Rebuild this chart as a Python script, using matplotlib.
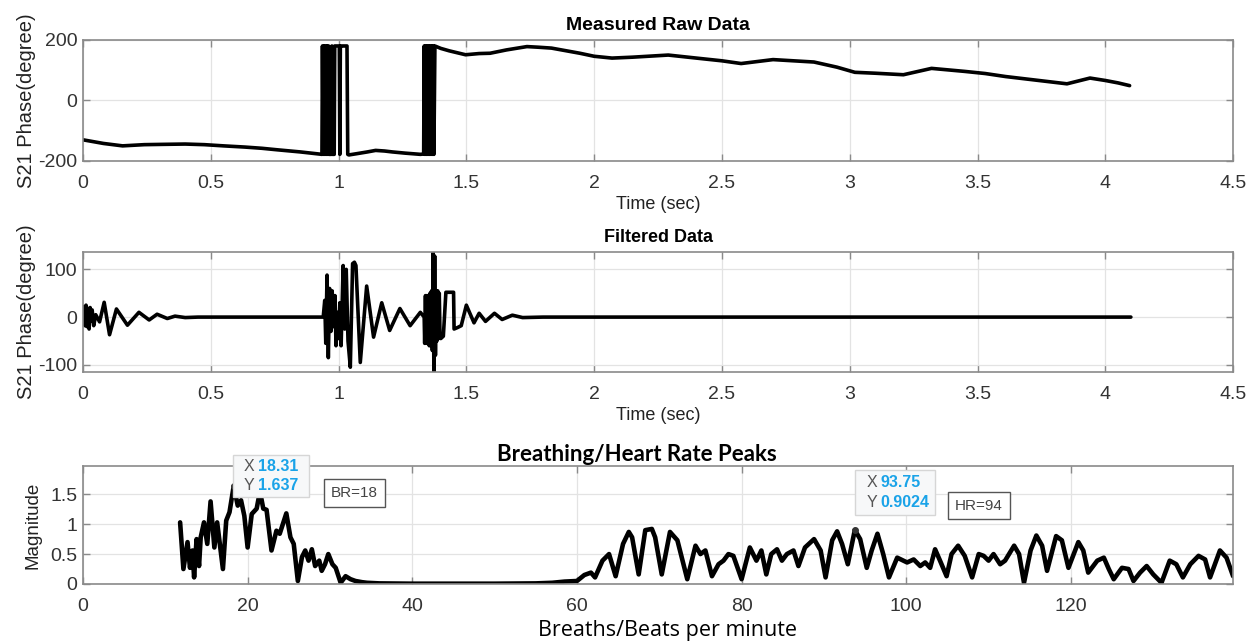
import numpy as np
import matplotlib.pyplot as plt
from matplotlib.patches import Rectangle

plt.rcParams['font.family'] = ['Liberation Sans', 'DejaVu Sans']
plt.rcParams['axes.unicode_minus'] = False

# ---- measured raw phase (deg) vs time (s) ----
raw_t = [0.0, 0.08, 0.155, 0.24, 0.315, 0.4, 0.475, 0.55, 0.634, 0.7, 0.76, 0.85, 0.935,
         0.937, 0.940, 0.943, 0.946, 0.949, 0.952, 0.955, 0.958, 0.961, 0.963,
         0.972, 0.974, 0.976, 0.983, 0.985, 1.003, 1.005, 1.007, 1.01, 1.033, 1.036,
         1.04, 1.07, 1.113, 1.145, 1.18, 1.21, 1.26, 1.32, 1.333,
         1.335, 1.338, 1.341, 1.344, 1.347, 1.350, 1.353, 1.356, 1.359, 1.362,
         1.365, 1.368, 1.371, 1.373,
         1.377, 1.4, 1.433, 1.497, 1.55, 1.593, 1.657, 1.737, 1.78, 1.833, 1.944,
         2.0, 2.07, 2.15, 2.29, 2.4, 2.5, 2.575, 2.7, 2.86, 2.95, 3.02, 3.1, 3.21,
         3.32, 3.45, 3.53, 3.61, 3.75, 3.85, 3.94, 4.0, 4.05, 4.095]
raw_v = [-130, -142, -150, -146, -145, -144, -146, -150, -154, -158, -163, -170, -178,
         180, -178, 180, -178, 180, -178, 180, -178, 180, -178,
         -178, 180, -178, -178, 180, 180, -178, 180, 180, 180, -178,
         -180, -176, -170, -165, -167, -170, -174, -178, -177,
         180, -178, 180, -178, 180, -178, 180, -178, 180, -178,
         180, -178, 180, -178,
         180, 172, 164, 151, 155, 156, 167, 178, 176, 173, 156,
         146, 140, 143, 150, 140, 131, 122, 135, 127, 110, 93, 90, 85,
         106, 96, 89, 79, 65, 55, 74, 66, 58, 49]

# ---- filtered phase (deg) vs time (s) ----
filt_t = [0.0, 0.004, 0.008, 0.012, 0.016, 0.02, 0.024, 0.028, 0.032, 0.036, 0.042, 0.05,
          0.065, 0.083, 0.104, 0.131, 0.174, 0.219, 0.259, 0.29, 0.33, 0.36, 0.4, 0.45, 0.94,
          0.946, 0.95, 0.955, 0.96, 0.965, 0.97, 0.975, 0.98, 0.986, 0.99, 0.995, 1.0,
          1.005, 1.01, 1.018, 1.024, 1.03, 1.037, 1.046, 1.055, 1.062, 1.068, 1.085,
          1.11, 1.137, 1.169, 1.2, 1.24, 1.28, 1.32, 1.335,
          1.337, 1.34, 1.343, 1.346, 1.349, 1.352, 1.355, 1.358, 1.361, 1.364, 1.367,
          1.37, 1.373, 1.376, 1.379, 1.382, 1.385, 1.388, 1.391, 1.394, 1.397, 1.4,
          1.41, 1.42, 1.45, 1.452, 1.465, 1.48, 1.5, 1.53, 1.55, 1.575, 1.61, 1.64,
          1.68, 1.72, 1.8, 4.1]
filt_v = [0, 22, -18, 25, -20, 18, -25, 20, -8, 15, -18, 5,
          -10, 31, -37, 17, -17, 10, -6, 6, -3, 2, -1, 0, 0,
          35, -55, 88, -85, 60, -30, 55, -20, 45, -60, 10, -45,
          30, -60, 108, -25, 100, -50, -105, 112, 115, 108, -95,
          65, -42, 30, -28, 18, -18, 10, 0,
          -55, 45, -55, 45, -55, 45, -60, 50, -60, 55, -70,
          135, -115, 128, -80, 55, -50, 55, -45, 50, -40, -45,
          -40, 52, 52, -25, -22, -18, 25, -12, 8, -9, 8, -5,
          4, -1, 0, 0]

# ---- spectrum magnitude vs breaths/beats per minute ----
bpm = [11.8, 12.2, 12.7, 13.0, 13.3, 13.5, 13.8, 14.1, 14.3, 14.7, 15.1, 15.5, 15.96,
       16.3, 17.0, 17.4, 17.8, 18.31, 18.8, 19.2, 19.6, 20.0, 20.5, 21.1, 21.5, 21.9,
       22.3, 22.9, 23.5, 23.9, 24.7, 25.2, 25.6, 26.1, 26.6, 27.0, 27.4, 27.8, 28.2,
       28.7, 29.0, 29.4, 29.8, 30.3, 30.7, 31.3, 31.9, 32.5, 33.1, 33.9, 34.5, 36,
       40, 50, 55, 57, 58.5, 60.0, 60.9, 61.7, 62.2, 63.1, 63.9, 64.7, 65.6, 66.3,
       66.7, 67.5, 68.3, 69.1, 69.5, 70.3, 71.3, 72.2, 73.4, 74.4, 75.0, 75.6, 76.4,
       77.2, 77.8, 78.4, 79.0, 80.0, 81.0, 81.8, 82.4, 83.0, 83.6, 84.3, 84.9, 85.5,
       86.3, 86.9, 87.7, 88.8, 89.6, 90.2, 91.0, 91.6, 92.2, 92.9, 93.75, 94.4, 95.2,
       95.8, 96.5, 97.2, 97.9, 98.9, 100.1, 100.9, 101.7, 102.3, 102.9, 103.5, 104.1,
       104.9, 105.5, 106.3, 107.1, 108.0, 108.8, 109.4, 110.0, 110.6, 111.4, 112.0,
       113.1, 113.7, 114.3, 115.1, 115.8, 116.5, 117.1, 118.2, 118.9, 119.7, 120.9,
       121.5, 122.1, 123.2, 124.0, 124.6, 125.2, 126.2, 127.0, 127.6, 128.4, 129.2,
       130.0, 131.0, 132.0, 132.8, 133.6, 134.5, 135.5, 136.3, 136.9, 138.1, 138.9,
       139.7]
mag = [1.03, 0.25, 0.70, 0.27, 0.56, 0.11, 0.75, 0.30, 0.78, 1.03, 0.67, 1.38, 0.61,
       1.03, 0.25, 1.06, 1.20, 1.637, 1.31, 1.40, 1.14, 0.61, 1.17, 1.26, 1.55, 1.26,
       1.24, 0.56, 0.89, 0.84, 1.18, 0.78, 0.67, 0.05, 0.45, 0.56, 0.39, 0.58, 0.30,
       0.39, 0.22, 0.33, 0.50, 0.33, 0.27, 0.02, 0.13, 0.08, 0.05, 0.03, 0.02, 0.01,
       0.005, 0.005, 0.01, 0.02, 0.04, 0.05, 0.15, 0.19, 0.11, 0.39, 0.50, 0.13, 0.67,
       0.87, 0.78, 0.16, 0.90, 0.92, 0.78, 0.16, 0.87, 0.73, 0.08, 0.64, 0.50, 0.56,
       0.13, 0.33, 0.39, 0.50, 0.47, 0.08, 0.61, 0.39, 0.56, 0.16, 0.50, 0.58, 0.39,
       0.50, 0.56, 0.30, 0.61, 0.75, 0.56, 0.11, 0.73, 0.88, 0.67, 0.33, 0.9024, 0.75,
       0.27, 0.56, 0.84, 0.50, 0.11, 0.44, 0.36, 0.41, 0.30, 0.36, 0.27, 0.58, 0.39,
       0.13, 0.50, 0.64, 0.47, 0.11, 0.50, 0.47, 0.39, 0.50, 0.33, 0.39, 0.64, 0.50,
       0.02, 0.56, 0.81, 0.64, 0.22, 0.80, 0.73, 0.27, 0.70, 0.56, 0.19, 0.39, 0.44,
       0.25, 0.08, 0.27, 0.25, 0.05, 0.19, 0.30, 0.16, 0.02, 0.39, 0.33, 0.11, 0.33,
       0.47, 0.41, 0.11, 0.56, 0.44, 0.13]

tips = [(18.31, 1.637), (93.75, 0.9024)]

TICK_C = '#333333'
FRAME_C = '#8a8a8a'
GRID_C = '#e3e3e3'
time_labels = ['0', '0.5', '1', '1.5', '2', '2.5', '3', '3.5', '4', '4.5']


def style_axes(ax):
    ax.grid(True, color=GRID_C, linewidth=0.9)
    ax.set_axisbelow(True)
    for s in ax.spines.values():
        s.set_color(FRAME_C)
        s.set_linewidth(1.2)
    ax.tick_params(direction='in', length=5, width=1, color=FRAME_C,
                   top=True, right=True, labelsize=14, labelcolor=TICK_C)
    ax.tick_params(axis='x', pad=10)
    ax.tick_params(axis='y', pad=4)


fig = plt.figure(figsize=(12.57, 6.44), dpi=100)
ax1 = fig.add_axes([0.066, 0.750, 0.915, 0.188])
ax2 = fig.add_axes([0.066, 0.4224, 0.915, 0.186])
ax3 = fig.add_axes([0.066, 0.0932, 0.915, 0.183])

line_kw = dict(color='black', solid_joinstyle='round', solid_capstyle='round')

ax1.plot(raw_t, raw_v, linewidth=2.6, **line_kw)
ax1.set_xlim(0, 4.5)
ax1.set_ylim(-200, 200)
ax1.set_yticks([-200, 0, 200])
ax1.set_xticks(np.arange(0, 4.51, 0.5))
ax1.set_xticklabels(time_labels)
ax1.set_title('Measured Raw Data', fontsize=14, fontweight='bold', pad=7)
ax1.set_xlabel('Time (sec)', fontsize=13, color='#222222', labelpad=3)
ax1.set_ylabel('S21 Phase(degree)', fontsize=14.5, color='#222222', labelpad=2)
style_axes(ax1)

ax2.plot(filt_t, filt_v, linewidth=2.6, **line_kw)
ax2.set_xlim(0, 4.5)
ax2.set_ylim(-115, 136)
ax2.set_yticks([-100, 0, 100])
ax2.set_xticks(np.arange(0, 4.51, 0.5))
ax2.set_xticklabels(time_labels)
ax2.set_title('Filtered Data', fontsize=13, fontweight='bold', pad=7)
ax2.set_xlabel('Time (sec)', fontsize=13, color='#222222', labelpad=3)
ax2.set_ylabel('S21 Phase(degree)', fontsize=14.5, color='#222222', labelpad=2)
style_axes(ax2)

ax3.plot(bpm, mag, linewidth=3.3, **line_kw)
ax3.set_xlim(0, 139.7)
ax3.set_ylim(0, 1.97)
ax3.set_yticks([0, 0.5, 1, 1.5])
ax3.set_yticklabels(['0', '0.5', '1', '1.5'])
ax3.set_xticks([0, 20, 40, 60, 80, 100, 120])
ax3.set_title('Breathing/Heart Rate Peaks', fontsize=16, fontweight='bold',
              family=['Lato', 'DejaVu Sans'], pad=4, x=0.482)
ax3.set_xlabel('Breaths/Beats per minute', fontsize=15.5,
               family=['Open Sans', 'DejaVu Sans'], labelpad=4, x=0.508)
ax3.set_ylabel('Magnitude', fontsize=13.5, color='#222222', labelpad=6)
style_axes(ax3)

# data tips
for (tx, ty) in tips:
    ax3.plot(tx, ty, 'o', color='#333333', markersize=4, zorder=6)

tip_boxes = [((18.2, 1.45), 9.2, 0.71, (19.5, 21.3), 18.31, 1.637),
             ((93.8, 1.15), 9.7, 0.76, (95.2, 96.9), 93.75, 0.9024)]
for (x0, y0), w, h, (lx, vx), xv, yv in tip_boxes:
    ax3.add_patch(Rectangle((x0, y0), w, h, facecolor='#f7f8f9', edgecolor='#d6d6d6',
                            linewidth=1, clip_on=False, zorder=7))
    y_top = y0 + h * 0.72
    y_bot = y0 + h * 0.27
    ax3.text(lx, y_top, 'X', fontsize=11.5, color='#555555', va='center', zorder=8)
    ax3.text(vx, y_top, f'{xv:g}', fontsize=11.5, color='#1aa3e8', fontweight='bold',
             va='center', zorder=8)
    ax3.text(lx, y_bot, 'Y', fontsize=11.5, color='#555555', va='center', zorder=8)
    ax3.text(vx, y_bot, f'{yv:g}', fontsize=11.5, color='#1aa3e8', fontweight='bold',
             va='center', zorder=8)

for (cx, cy), label in [((33.0, 1.52), 'BR=18'), ((108.8, 1.31), 'HR=94')]:
    ax3.text(cx, cy, label, fontsize=11, color='#444444', ha='center', va='center',
             zorder=8, bbox=dict(boxstyle='square,pad=0.45', facecolor='white',
                                 edgecolor='#555555', linewidth=1))

fig.savefig('out.png', dpi=100)
